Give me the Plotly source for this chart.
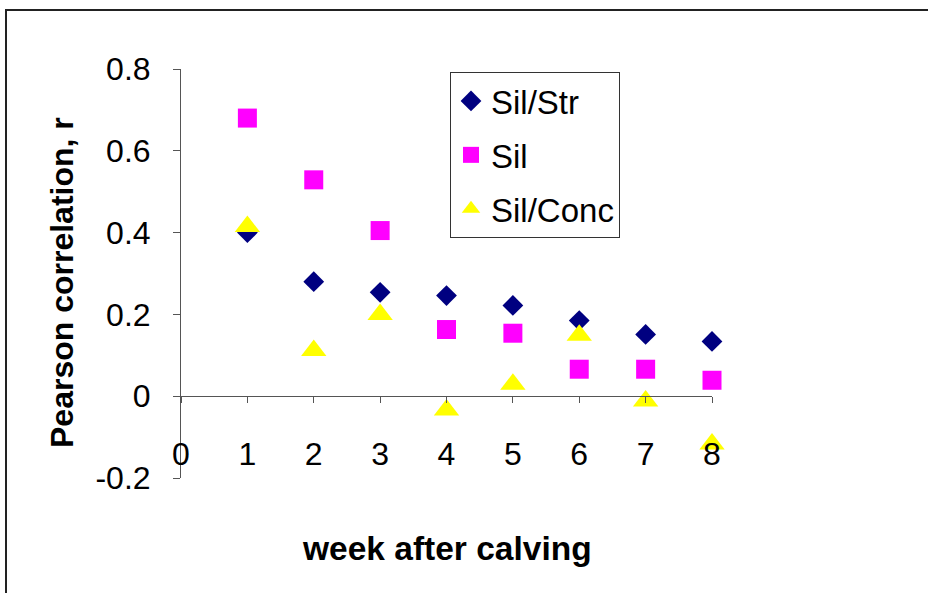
import plotly.graph_objects as go

weeks = [1, 2, 3, 4, 5, 6, 7, 8]
sil_str = [0.400, 0.280, 0.254, 0.246, 0.222, 0.185, 0.151, 0.134]
sil = [0.680, 0.529, 0.405, 0.163, 0.154, 0.066, 0.066, 0.039]
sil_conc = [0.415, 0.112, 0.200, -0.034, 0.029, 0.149, -0.012, -0.117]

series_names = ["Sil/Str", "Sil", "Sil/Conc"]
y_tickvals = [-0.2, 0, 0.2, 0.4, 0.6, 0.8]
y_ticktext = ["-0.2", "0", "0.2", "0.4", "0.6", "0.8"]
x_tickvals = [0, 1, 2, 3, 4, 5, 6, 7, 8]
x_ticktext = ["0", "1", "2", "3", "4", "5", "6", "7", "8"]

FONT = "Liberation Sans, Arial, sans-serif"
W, H = 928, 593
L, R, T, B = 181, 216, 69, 115
pw = W - L - R
ph = H - T - B

def px_x(p):
    return (p - L) / pw

def px_y(p):
    return (H - B - p) / ph

fig = go.Figure()
fig.add_trace(go.Scatter(x=weeks, y=sil_str, mode="markers", name=series_names[0],
                         legendgroup="a", cliponaxis=False,
                         marker=dict(symbol="diamond", size=16, color="#000080")))
fig.add_trace(go.Scatter(x=weeks, y=sil, mode="markers", name=series_names[1],
                         legendgroup="b", cliponaxis=False,
                         marker=dict(symbol="square", size=19, color="#FF00FF")))
fig.add_trace(go.Scatter(x=weeks, y=sil_conc, mode="markers", name=series_names[2],
                         legendgroup="c", cliponaxis=False,
                         marker=dict(symbol="triangle-up", size=22, color="#FFFF00")))

y_min, y_max = -0.2, 0.8
fig.update_layout(
    width=W, height=H,
    margin=dict(l=L, r=R, t=T, b=B, pad=0),
    paper_bgcolor="white", plot_bgcolor="white",
    font=dict(family=FONT, size=32, color="black"),
    showlegend=True,
    legend=dict(x=px_x(450), y=px_y(72), xanchor="left", yanchor="top",
                bgcolor="white", bordercolor="#333333", borderwidth=1,
                font=dict(family=FONT, size=33, color="black"),
                tracegroupgap=8, itemsizing="trace"),
    xaxis=dict(range=[0, 8], tickvals=x_tickvals, ticktext=x_ticktext,
               showgrid=False, zeroline=False, showline=True,
               linecolor="#555555", linewidth=1,
               ticks="outside", ticklen=6, tickcolor="#555555",
               anchor="free", position=(0 - y_min) / (y_max - y_min),
               ticklabelstandoff=23,
               tickfont=dict(family=FONT, size=32, color="black")),
    yaxis=dict(range=[y_min, y_max], tickvals=y_tickvals, ticktext=y_ticktext,
               showgrid=False, zeroline=False, showline=True,
               linecolor="#555555", linewidth=1,
               ticks="outside", ticklen=7, tickcolor="#555555",
               ticklabelstandoff=16,
               tickfont=dict(family=FONT, size=32, color="black")),
    annotations=[
        dict(text="<b>Pearson correlation, r</b>", xref="paper", yref="paper",
             x=px_x(62), y=px_y(283), xanchor="center", yanchor="middle",
             textangle=-90, showarrow=False,
             font=dict(family=FONT, size=32, color="black")),
        dict(text="<b>week after calving</b>", xref="paper", yref="paper",
             x=0.5, y=px_y(548), xanchor="center", yanchor="middle",
             showarrow=False,
             font=dict(family=FONT, size=33.5, color="black")),
    ],
    shapes=[
        dict(type="path", xref="paper", yref="paper",
             path=f"M {px_x(6)} {px_y(H + 5)} L {px_x(6)} {px_y(10)} L {px_x(W + 5)} {px_y(10)}",
             line=dict(color="#222222", width=2)),
    ],
)

fig.write_html("out.html")
